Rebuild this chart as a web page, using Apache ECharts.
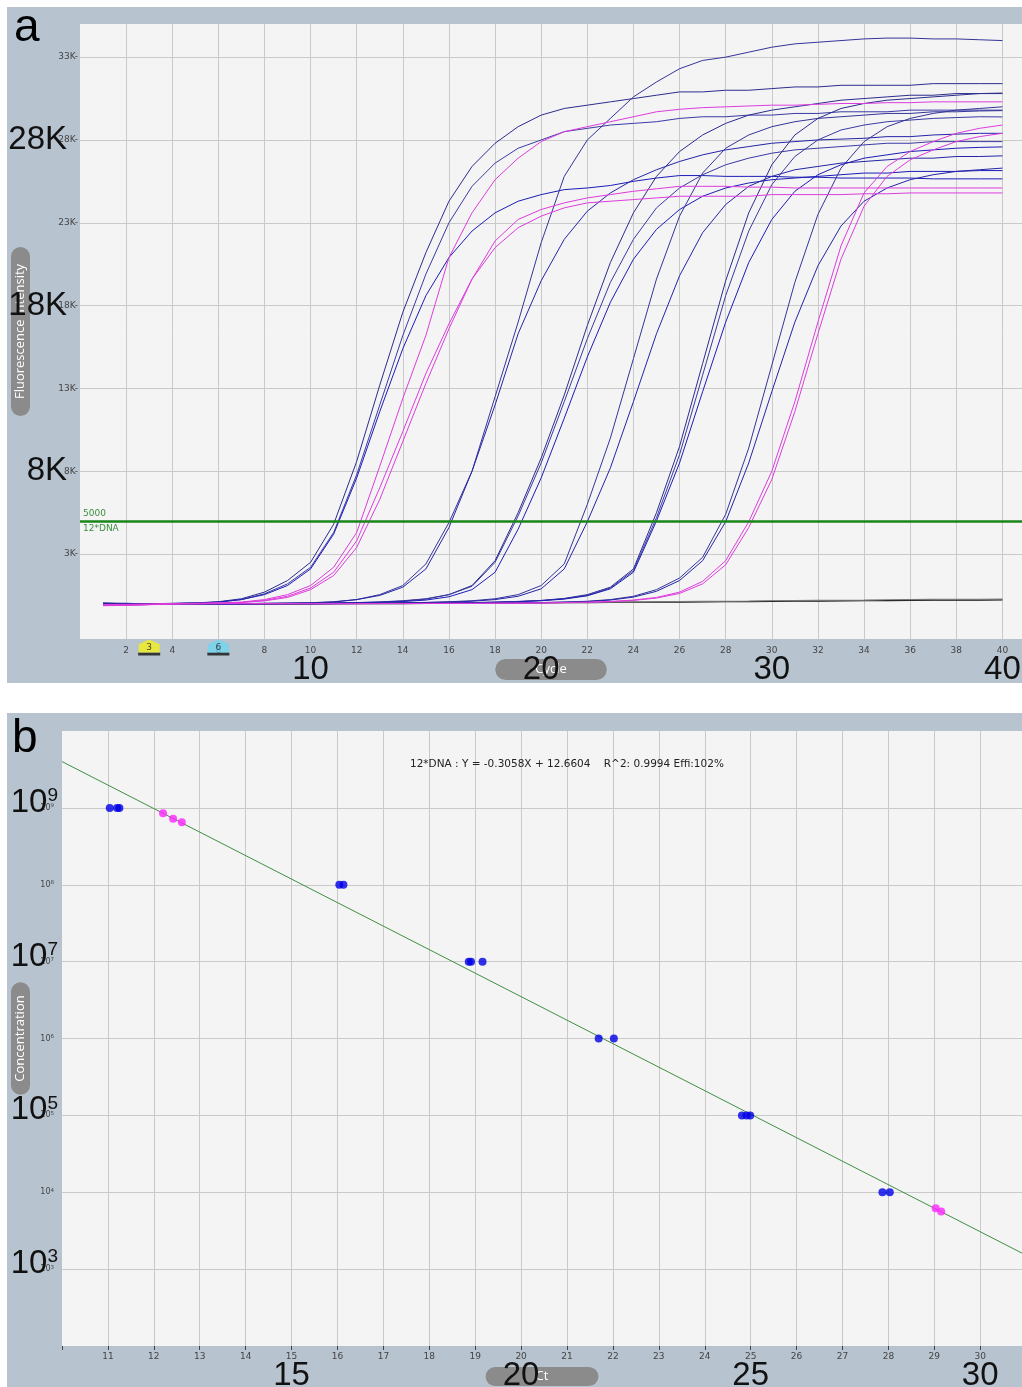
<!DOCTYPE html>
<html><head><meta charset="utf-8">
<script src="https://cdn.jsdelivr.net/npm/echarts@6/dist/echarts.min.js"></script>
<style>html,body{margin:0;padding:0;background:#fff}#c{width:1022px;height:1387px}</style>
</head><body><div id="c"></div>
<script>
// ================= Panel a : amplification curves (values in K fluorescence units) =================
const cycles = [1,2,3,4,5,6,7,8,9,10,11,12,13,14,15,16,17,18,19,20,21,22,23,24,25,26,27,28,29,30,31,32,33,34,35,36,37,38,39,40];

// standards (blue)
const std9_1 = [0.05,0.02,0.00,0.02,0.05,0.12,0.30,0.70,1.40,2.50, 4.80,8.60,13.2,17.6,21.2,24.3,26.4,27.8,28.8,29.5, 29.9,30.1,30.3,30.5,30.7,30.9,30.9,31.0,31.0,31.1, 31.2,31.2,31.3,31.3,31.3,31.3,31.4,31.4,31.4,31.4];
const std9_2 = [0.03,0.00,0.00,0.02,0.04,0.10,0.25,0.60,1.20,2.20, 4.30,7.80,12.0,16.2,19.9,23.0,25.2,26.6,27.5,28.0, 28.5,28.7,28.9,29.0,29.1,29.3,29.4,29.4,29.5,29.5, 29.6,29.6,29.7,29.7,29.7,29.8,29.8,29.8,29.8,29.8];
const std9_3 = [0.00,0.02,0.00,0.01,0.04,0.10,0.25,0.55,1.10,2.10, 4.20,7.60,11.6,15.4,18.6,20.9,22.5,23.6,24.3,24.7, 25.0,25.1,25.25,25.5,25.7,25.85,25.85,25.8,25.8,25.8, 25.75,25.75,25.7,25.7,25.7,25.7,25.65,25.65,25.65,25.65];
const std8_1 = [0.00,0.01,0.00,0.00,-0.01,0.00,0.01,0.02,0.03,0.05, 0.10,0.25,0.55,1.10,2.40,4.90,8.00,12.5,17.0,21.8, 25.8,28.0,29.3,30.6,31.5,32.3,32.8,33.0,33.3,33.6, 33.8,33.9,34.0,34.1,34.15,34.15,34.1,34.1,34.05,34.0];
const std8_2 = [0.02,0.00,0.01,0.00,0.00,0.01,0.01,0.02,0.04,0.06, 0.12,0.25,0.50,1.00,2.10,4.60,8.00,12.0,16.3,19.5, 22.0,23.7,24.8,25.6,26.2,26.7,27.1,27.4,27.6,27.8, 27.9,28.0,28.05,28.1,28.2,28.2,28.3,28.35,28.4,28.4];
const std7_1 = [0.00,0.00,-0.02,0.00,0.00,0.01,0.00,0.02,0.02,0.03, 0.04,0.06,0.10,0.16,0.28,0.55,1.10,2.60,5.50,8.80, 12.6,16.8,20.6,23.6,25.8,27.3,28.3,29.0,29.5,29.8, 30.0,30.2,30.4,30.5,30.6,30.7,30.7,30.8,30.8,30.8];
const std7_2 = [0.01,0.00,0.00,0.01,0.00,0.00,0.01,0.01,0.02,0.03, 0.05,0.07,0.11,0.18,0.30,0.55,1.05,2.50,5.30,8.50, 12.2,16.0,19.4,22.0,23.9,25.1,25.9,26.5,26.9,27.2, 27.4,27.5,27.6,27.7,27.8,27.8,27.9,27.9,27.9,27.9];
const std7_3 = [-0.02,0.00,0.00,0.00,0.01,0.00,0.00,0.01,0.01,0.02, 0.03,0.05,0.08,0.13,0.22,0.42,0.85,1.90,4.50,7.60, 11.2,14.9,18.2,20.8,22.6,23.8,24.6,25.1,25.4,25.6, 25.7,25.8,25.9,26.0,26.0,26.1,26.1,26.1,26.15,26.15];
const std6_1 = [0.00,0.00,0.01,0.00,0.00,-0.01,0.00,0.00,0.01,0.01, 0.02,0.03,0.04,0.06,0.08,0.12,0.18,0.30,0.55,1.10, 2.40,6.00,10.0,14.8,19.6,23.4,26.0,27.5,28.3,28.8, 29.1,29.3,29.4,29.5,29.6,29.6,29.7,29.7,29.75,29.77];
const std6_2 = [0.01,0.00,0.00,0.00,0.01,0.00,0.00,0.01,0.00,0.01, 0.02,0.02,0.03,0.05,0.07,0.10,0.15,0.25,0.45,0.90, 2.10,4.95,8.20,12.2,16.3,19.8,22.4,24.1,25.2,25.8, 26.2,26.4,26.6,26.7,26.8,26.9,26.9,27.0,27.0,27.04];
const std5_1 = [0.00,0.01,0.00,0.00,0.00,0.00,0.01,0.00,0.00,0.01, 0.01,0.02,0.02,0.03,0.04,0.05,0.07,0.10,0.14,0.20, 0.32,0.55,1.00,2.10,5.50,9.50,14.5,19.5,23.6,26.5, 28.3,29.3,29.9,30.2,30.4,30.5,30.6,30.7,30.8,30.83];
const std5_2 = [0.01,0.00,0.00,0.01,0.00,0.00,0.00,0.01,0.01,0.00, 0.01,0.01,0.02,0.03,0.04,0.05,0.06,0.09,0.13,0.19, 0.30,0.50,0.95,2.00,5.20,9.00,13.8,18.6,22.5,25.3, 27.0,28.0,28.6,28.9,29.1,29.2,29.3,29.35,29.4,29.39];
const std5_3 = [-0.01,0.00,0.00,0.00,0.01,0.00,0.00,0.00,0.01,0.01, 0.01,0.02,0.02,0.02,0.03,0.05,0.06,0.08,0.12,0.18, 0.28,0.48,0.90,1.90,5.00,8.50,12.8,17.0,20.6,23.2, 24.9,25.9,26.5,26.9,27.1,27.3,27.4,27.5,27.55,27.58];
const std4_1 = [0.00,0.00,0.01,0.00,0.00,0.00,0.00,0.01,0.00,0.00, 0.01,0.01,0.01,0.02,0.02,0.03,0.03,0.04,0.05,0.07, 0.10,0.15,0.25,0.45,0.85,1.55,2.80,5.40,9.40,14.4, 19.4,23.5,26.3,27.9,28.8,29.3,29.6,29.8,29.9,30.0];
const std4_2 = [0.01,0.00,0.00,0.00,0.01,0.00,0.00,0.00,0.01,0.00, 0.00,0.01,0.01,0.01,0.02,0.02,0.03,0.04,0.05,0.06, 0.09,0.13,0.22,0.40,0.75,1.40,2.60,4.95,8.50,12.8, 17.0,20.4,22.8,24.3,25.1,25.6,25.9,26.1,26.2,26.3];
// unknown samples (magenta)
const unk_1 = [-0.10,-0.08,-0.05,0.00,0.02,0.05,0.10,0.25,0.55,1.10, 2.20,4.30,8.30,12.4,16.2,20.9,23.6,25.6,26.9,27.9, 28.5,28.8,29.1,29.4,29.7,29.85,29.95,30.0,30.05,30.1, 30.1,30.15,30.2,30.2,30.25,30.25,30.3,30.3,30.3,30.3];
const unk_2 = [-0.10,-0.10,-0.05,0.00,0.02,0.04,0.08,0.20,0.45,0.95, 1.90,3.80,7.00,10.4,13.9,16.9,19.6,21.5,22.7,23.4, 23.9,24.2,24.3,24.4,24.5,24.6,24.6,24.6,24.6,24.7, 24.7,24.7,24.7,24.75,24.75,24.8,24.8,24.8,24.8,24.8];
const unk_3 = [-0.12,-0.10,-0.06,-0.02,0.00,0.03,0.07,0.17,0.38,0.85, 1.70,3.40,6.30,9.80,13.3,16.6,19.6,21.9,23.2,23.8, 24.2,24.5,24.7,24.9,25.05,25.2,25.2,25.2,25.15,25.15, 25.1,25.1,25.1,25.1,25.1,25.1,25.1,25.1,25.1,25.1];
const unk_4 = [-0.05,-0.04,-0.02,0.00,0.00,0.01,0.00,0.00,0.01,0.00, 0.00,0.01,0.01,0.01,0.02,0.02,0.02,0.03,0.04,0.05, 0.07,0.09,0.14,0.22,0.38,0.70,1.35,2.60,4.95,8.00, 12.2,17.0,21.6,24.8,26.4,27.3,27.9,28.4,28.7,28.9];
const unk_5 = [-0.06,-0.05,-0.03,-0.01,0.00,0.00,0.01,0.00,0.00,0.01, 0.00,0.00,0.01,0.01,0.01,0.02,0.02,0.03,0.03,0.04, 0.06,0.08,0.12,0.20,0.34,0.62,1.20,2.35,4.60,7.50, 11.6,16.3,20.8,24.0,25.8,26.8,27.4,27.9,28.2,28.4];
// no-template controls
const ntc_1 = [-0.05,-0.05,-0.04,-0.04,-0.03,-0.03,-0.02,-0.02,-0.01,-0.01, 0.00,0.00,0.01,0.01,0.02,0.03,0.03,0.04,0.05,0.05, 0.06,0.07,0.08,0.09,0.10,0.10,0.11,0.12,0.13,0.14, 0.15,0.16,0.17,0.18,0.19,0.20,0.21,0.22,0.22,0.23];
const ntc_2 = [-0.02,-0.03,-0.03,-0.02,-0.02,-0.01,-0.01,0.00,0.00,0.01, 0.01,0.02,0.02,0.03,0.03,0.04,0.05,0.05,0.06,0.07, 0.08,0.09,0.10,0.11,0.12,0.13,0.14,0.15,0.16,0.18, 0.19,0.20,0.21,0.22,0.24,0.25,0.26,0.27,0.27,0.28];

const stdCurves = [std9_1,std9_2,std9_3,std8_1,std8_2,std7_1,std7_2,std7_3,std6_1,std6_2,std5_1,std5_2,std5_3,std4_1,std4_2];
const unkCurves = [unk_1,unk_2,unk_3,unk_4,unk_5];
const ntcCurves = [ntc_1,ntc_2];

const yTicksA = [3000,8000,13000,18000,23000,28000,33000];
const bigYTicksA = [8000,18000,28000];
const xTicksA = [2,4,6,8,10,12,14,16,18,20,22,24,26,28,30,32,34,36,38,40];
const bigXTicksA = [10,20,30,40];
const thresholdA = 5000;
const thresholdName = '12*DNA';
const baselineMarks = [3,6];

// ================= Panel b : standard curve =================
const stdCt   = [11.04,11.20,11.25,16.04,16.13,18.86,18.91,19.16,21.69,22.02,24.81,24.91,24.99,27.87,28.03];
const stdConc = [1e9,1e9,1e9,1e8,1e8,1e7,1e7,1e7,1e6,1e6,1e5,1e5,1e5,1e4,1e4];
const unkCt   = [12.20,12.42,12.61,29.03,29.15];
const unkConc = [8.5e8,7.2e8,6.5e8,6.2e3,5.6e3];
const fitSlope = -0.3058, fitIntercept = 12.6604, fitR2 = 0.9994, fitEff = 102;
const xTicksB = [11,12,13,14,15,16,17,18,19,20,21,22,23,24,25,26,27,28,29,30];
const bigXTicksB = [15,20,25,30];
const yExpB = [3,4,5,6,7,8,9];
const bigYExpB = [3,5,7,9];

// ================= build =================
const SMALL = 'DejaVu Sans', BIG = 'Liberation Sans', PILL = 'Open Sans';
const xMinA = 0, xMaxA = 40.85, yMinA = -2130, yMaxA = 35000;
const xMinB = 10, xMaxB = 30.91;
const CLEAR = 'rgba(0,0,0,0)';

const navy = ['#2c2c8e','#3a3aa4','#1c1cb8','#34349a','#2424a8'];
const series = [];

// gridlines (panel a horizontal) + small labels
series.push({
  type:'line', xAxisIndex:0, yAxisIndex:0, data:[], silent:true,
  markLine:{ z:1, silent:true, symbol:['none','none'], animation:false,
    lineStyle:{color:'#c9c9c9', type:'solid', width:1},
    label:{position:'start', distance:2, fontSize:9, color:'#444', fontFamily:SMALL,
      formatter:p=>(p.value/1000)+'K-'},
    data: yTicksA.map(v=>({yAxis:v}))
  }
});

const mk = (arr) => arr.map((v,i)=>[cycles[i], v*1000]);
ntcCurves.forEach((c,i)=>series.push({type:'line', xAxisIndex:0, yAxisIndex:0, z:3, symbol:'none', silent:true,
  lineStyle:{width:1.2, color: i===0?'#111':'#777'}, data: mk(c)}));
stdCurves.forEach((c,i)=>series.push({type:'line', xAxisIndex:0, yAxisIndex:0, z:3, symbol:'none', silent:true,
  lineStyle:{width:1, color: navy[i%navy.length]}, data: mk(c)}));
unkCurves.forEach((c,i)=>series.push({type:'line', xAxisIndex:0, yAxisIndex:0, z:3, symbol:'none', silent:true,
  lineStyle:{width:1, color:'#dd3cdd'}, data: mk(c)}));

// threshold line + big y labels
series.push({
  type:'line', xAxisIndex:0, yAxisIndex:0, data:[], silent:true,
  markLine:{ silent:true, symbol:['none','none'], animation:false,
    data:[
      {yAxis:thresholdA, lineStyle:{color:'#1a861a', width:2.5, type:'solid'},
        label:{position:'insideStartTop', formatter:String(thresholdA), color:'#3d8f3d', fontSize:9, fontFamily:SMALL, distance:3}},
      {yAxis:thresholdA, lineStyle:{color:CLEAR, width:0},
        label:{position:'insideStartBottom', formatter:thresholdName, color:'#3d8f3d', fontSize:9, fontFamily:SMALL, distance:3}}
    ]
  }
});
series.push({
  type:'line', xAxisIndex:0, yAxisIndex:0, data:[], silent:true,
  markLine:{ z:8, silent:true, symbol:['none','none'], animation:false,
    lineStyle:{color:CLEAR, width:0},
    label:{position:'start', distance:13, fontSize:33, color:'#111', fontFamily:BIG,
      formatter:p=>(p.value/1000)+'K'},
    data: bigYTicksA.map(v=>({yAxis:v}))
  }
});
// baseline start/end markers
series.push({type:'scatter', xAxisIndex:0, yAxisIndex:0, clip:false, silent:true, z:6,
  symbol:'rect', symbolSize:[22,3], symbolOffset:[0,15], itemStyle:{color:'#111'},
  data: baselineMarks.map(c=>[c, yMinA])});
series.push({type:'scatter', xAxisIndex:0, yAxisIndex:0, clip:false, silent:true, z:7,
  symbol:'path://M0,5 L10,0 L20,5 L20,14 L0,14 Z', symbolSize:[21,13], symbolOffset:[0,7],
  data: baselineMarks.map((c,i)=>({value:[c, yMinA], itemStyle:{color: i===0?'#f4f01c':'#6fd6f0'}})),
  label:{show:true, position:'inside', offset:[0,2], formatter:p=>p.value[0], fontSize:9, color:'#222', fontFamily:SMALL}});

// panel b
series.push({type:'line', xAxisIndex:2, yAxisIndex:1, symbol:'none', silent:true, z:3,
  lineStyle:{color:'#3f8f3f', width:1},
  data:[xMinB, xMaxB].map(x=>[x, Math.pow(10, fitIntercept + fitSlope*x)])});
series.push({type:'scatter', xAxisIndex:2, yAxisIndex:1, silent:true, z:4, symbolSize:8,
  itemStyle:{color:'#0000e6'}, data: stdCt.map((c,i)=>[c, stdConc[i]])});
series.push({type:'scatter', xAxisIndex:2, yAxisIndex:1, silent:true, z:4, symbolSize:8,
  itemStyle:{color:'#ff24ff'}, data: unkCt.map((c,i)=>[c, unkConc[i]])});

const pill = (pad)=>({color:'#fff', backgroundColor:'#8b8b8b', borderRadius:11, padding:pad, fontSize:13, fontFamily:PILL});
const expOf = v => Math.round(Math.log10(v));

const eqText = thresholdName + ' : Y = ' + fitSlope.toFixed(4) + 'X + ' + fitIntercept.toFixed(4) + '    R^2: ' + fitR2.toFixed(4) + ' Effi:' + fitEff + '%';

const option = {
  animation:false,
  textStyle:{fontFamily:SMALL},
  graphic:[
    {type:'rect', z:-20, silent:true, shape:{x:7,y:7,width:1015,height:676}, style:{fill:'#b7c3cf'}},
    {type:'rect', z:-20, silent:true, shape:{x:7,y:713,width:1015,height:674}, style:{fill:'#b7c3cf'}},
    {type:'text', z:50, left:14, top:5, style:{text:'a', font:'46px "Liberation Sans"', fill:'#000'}},
    {type:'text', z:50, left:12, top:716, style:{text:'b', font:'46px "Liberation Sans"', fill:'#000'}}
  ],
  title:{text:eqText, left:405, top:754, textStyle:{fontSize:10.5, fontWeight:'normal', color:'#222', fontFamily:SMALL}},
  grid:[
    {left:80, top:24, width:942, height:615, show:true, backgroundColor:'#f4f4f4', borderWidth:0, outerBoundsMode:'none'},
    {left:62, top:731, width:960, height:615, show:true, backgroundColor:'#f4f4f4', borderWidth:0, outerBoundsMode:'none'}
  ],
  xAxis:[
    {type:'value', gridIndex:0, position:'bottom', min:xMinA, max:xMaxA, interval:2,
      axisLine:{show:false}, axisTick:{show:false},
      axisLabel:{fontSize:9, color:'#444', margin:7, fontFamily:SMALL, formatter:v=>xTicksA.includes(v)?String(v):''},
      splitLine:{show:true, showMinLine:false, showMaxLine:false, lineStyle:{color:'#c9c9c9'}},
      name:'Cycle', nameLocation:'middle', nameGap:20, nameMoveOverlap:false, nameTextStyle:pill([4,40,4,40])},
    {type:'value', gridIndex:0, position:'bottom', offset:0, min:xMinA, max:xMaxA, interval:10, z:6,
      axisLine:{show:false}, axisTick:{show:false}, splitLine:{show:false},
      axisLabel:{fontSize:33, lineHeight:33, color:'#111', margin:14, fontFamily:BIG, formatter:v=>bigXTicksA.includes(v)?String(v):''}},
    {type:'value', gridIndex:1, position:'bottom', min:xMinB, max:xMaxB, interval:1,
      axisLine:{show:false}, axisTick:{show:true, length:4, lineStyle:{color:'#444'}},
      axisLabel:{fontSize:9, color:'#444', margin:6, fontFamily:SMALL, formatter:v=>xTicksB.includes(v)?String(v):''},
      splitLine:{show:true, showMinLine:false, showMaxLine:false, lineStyle:{color:'#c9c9c9'}},
      name:'Ct', nameLocation:'middle', nameGap:21, nameMoveOverlap:false, nameTextStyle:pill([3,50,3,50])},
    {type:'value', gridIndex:1, position:'bottom', offset:0, min:xMinB, max:xMaxB, interval:5, z:6,
      axisLine:{show:false}, axisTick:{show:false}, splitLine:{show:false},
      axisLabel:{fontSize:33, lineHeight:33, color:'#111', margin:13, fontFamily:BIG, formatter:v=>bigXTicksB.includes(v)?String(v):''}}
  ],
  yAxis:[
    {type:'value', gridIndex:0, position:'left', min:yMinA, max:yMaxA,
      axisLine:{show:false}, axisTick:{show:false}, axisLabel:{show:false}, splitLine:{show:false},
      name:'Fluorescence Intensity', nameLocation:'middle', nameRotate:90, nameGap:50, nameMoveOverlap:false, nameTextStyle:pill([3,17,3,17])},
    {type:'log', logBase:10, gridIndex:1, position:'left', min:1e2, max:1e10, interval:1,
      axisLine:{show:false}, axisTick:{show:false},
      axisLabel:{margin:8, formatter:v=>{const n=expOf(v); return yExpB.includes(n)?'{a|10}{b|'+n+'}':'';},
        rich:{a:{fontSize:8, color:'#444', fontFamily:SMALL, lineHeight:10}, b:{fontSize:5.5, color:'#444', fontFamily:SMALL, verticalAlign:'top', lineHeight:6}}},
      splitLine:{show:true, showMinLine:false, showMaxLine:false, lineStyle:{color:'#c9c9c9'}},
      name:'Concentration', nameLocation:'middle', nameRotate:90, nameGap:32, nameMoveOverlap:false, nameTextStyle:pill([3,13,3,13])},
    {type:'log', logBase:10, gridIndex:1, position:'left', offset:0, min:1e2, max:1e10, interval:1, z:6,
      axisLine:{show:false}, axisTick:{show:false}, splitLine:{show:false},
      axisLabel:{margin:4, padding:[0,0,10,0], formatter:v=>{const n=expOf(v); return bigYExpB.includes(n)?'{a|10}{b|'+n+'}':'';},
        rich:{a:{fontSize:33, color:'#111', fontFamily:BIG, lineHeight:33}, b:{fontSize:19, color:'#111', fontFamily:BIG, verticalAlign:'top', lineHeight:19}}}}
  ],
  series
};
const chart = echarts.init(document.getElementById('c'), null, {renderer:'canvas'});
chart.setOption(option);
</script></body></html>
